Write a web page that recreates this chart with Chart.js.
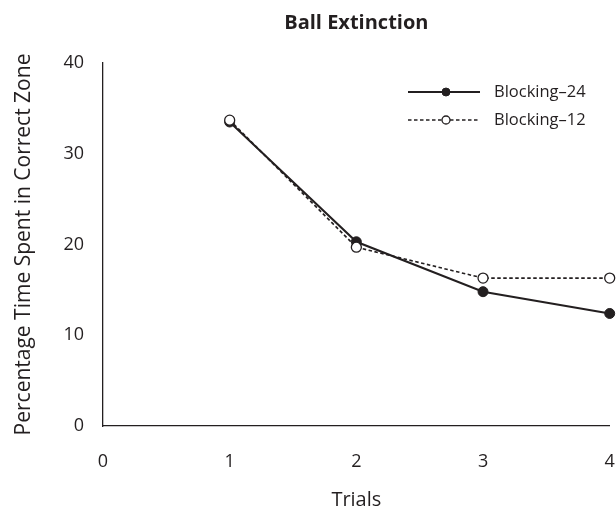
<!DOCTYPE html>
<html>
<head>
<meta charset="utf-8">
<script src="https://cdn.jsdelivr.net/npm/chart.js@4.4.1/dist/chart.umd.min.js"></script>
<style>
  html, body { margin: 0; padding: 0; background: #fff; }
  #wrap { width: 616px; height: 508px; }
</style>
</head>
<body>
<div id="wrap"><canvas id="c" width="616" height="508"></canvas></div>
<script>
// Trial numbers and mean percentage of time in the correct zone
const trials = [1, 2, 3, 4];
const blocking24 = [33.5, 20.3, 14.8, 12.4];
const blocking12 = [33.7, 19.7, 16.3, 16.3];
const seriesNames = ['Blocking\u201324', 'Blocking\u201312'];
const yTicks = [0, 10, 20, 30, 40];
const xTicks = [0, 1, 2, 3, 4];

const FONT = '"Open Sans", "Liberation Sans", sans-serif';
const INK = '#231f20';

function toPoints(xs, ys) {
  return xs.map((x, i) => ({ x: x, y: ys[i] }));
}

// Legend drawn as line + marker samples, top right of the plot
const sampleLegend = {
  id: 'sampleLegend',
  afterDraw(chart) {
    const ctx = chart.ctx;
    const x0 = 408, x1 = 480, rows = [92, 120];
    chart.data.datasets.forEach((ds, i) => {
      const y = rows[i];
      ctx.save();
      ctx.strokeStyle = ds.borderColor;
      ctx.lineWidth = ds.borderWidth;
      ctx.setLineDash(ds.borderDash || []);
      ctx.beginPath();
      ctx.moveTo(x0, y);
      ctx.lineTo(x1, y);
      ctx.stroke();
      ctx.setLineDash([]);
      ctx.beginPath();
      ctx.arc(446, y, 4, 0, Math.PI * 2);
      ctx.fillStyle = ds.pointBackgroundColor;
      ctx.fill();
      ctx.lineWidth = ds.pointBorderWidth;
      ctx.strokeStyle = ds.pointBorderColor;
      ctx.stroke();
      ctx.fillStyle = INK;
      ctx.font = '16.5px ' + FONT;
      ctx.textBaseline = 'middle';
      ctx.textAlign = 'left';
      ctx.fillText(ds.label, 494, y);
      ctx.restore();
    });
  }
};

new Chart(document.getElementById('c'), {
  type: 'line',
  data: {
    datasets: [
      {
        label: seriesNames[0],
        data: toPoints(trials, blocking24),
        borderColor: INK,
        borderWidth: 2,
        pointRadius: 5,
        pointBackgroundColor: INK,
        pointBorderColor: INK,
        pointBorderWidth: 1,
        tension: 0,
        clip: false,
        order: 2
      },
      {
        label: seriesNames[1],
        data: toPoints(trials, blocking12),
        borderColor: INK,
        borderWidth: 1.6,
        borderDash: [3.5, 2.5],
        pointRadius: 5,
        pointBackgroundColor: '#ffffff',
        pointBorderColor: INK,
        pointBorderWidth: 1.3,
        tension: 0,
        clip: false,
        order: 1
      }
    ]
  },
  options: {
    responsive: false,
    animation: false,
    devicePixelRatio: 1,
    layout: { padding: { left: 0, right: 6, top: 0, bottom: 0 } },
    plugins: {
      legend: { display: false },
      tooltip: { enabled: false },
      title: {
        display: true,
        fullSize: false,
        text: 'Ball Extinction',
        color: INK,
        font: { family: FONT, size: 20, weight: 'bold', lineHeight: 1.2 },
        padding: { top: 11, bottom: 28 }
      }
    },
    scales: {
      x: {
        type: 'linear',
        min: 0,
        max: 4,
        afterBuildTicks(scale) { scale.ticks = xTicks.map(v => ({ value: v })); },
        afterFit(scale) { scale.height = 82; scale.paddingRight = 0; scale.paddingLeft = 0; },
        grid: { display: false, drawOnChartArea: false, drawTicks: true, tickLength: 4, color: INK },
        border: { display: true, color: INK, width: 1.3 },
        ticks: { color: INK, font: { family: FONT, size: 18 }, padding: 21, maxRotation: 0 },
        title: {
          display: true,
          text: 'Trials',
          color: INK,
          font: { family: FONT, size: 20, lineHeight: 1 },
          padding: { top: 0, bottom: -2 }
        }
      },
      y: {
        min: 0,
        max: 40,
        afterBuildTicks(scale) { scale.ticks = yTicks.map(v => ({ value: v })); },
        afterFit(scale) { scale.width = 103; },
        grid: { display: false, drawOnChartArea: false, drawTicks: true, tickLength: 4, color: INK },
        border: { display: true, color: INK, width: 1.3 },
        ticks: { color: INK, font: { family: FONT, size: 18 }, padding: 15 },
        title: {
          display: true,
          text: 'Percentage Time Spent in Correct Zone',
          color: INK,
          font: { family: FONT, size: 21, lineHeight: 1 },
          padding: { top: 14, bottom: 0 }
        }
      }
    }
  },
  plugins: [sampleLegend]
});
</script>
</body>
</html>
